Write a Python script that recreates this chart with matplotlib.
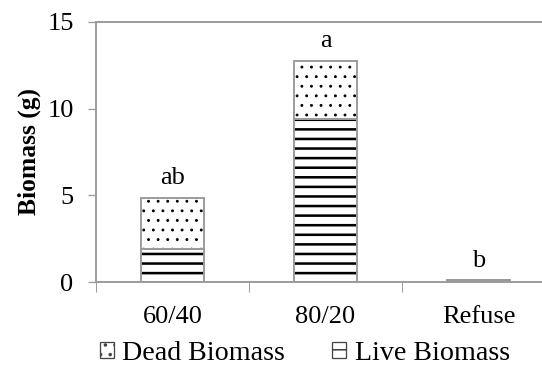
import numpy as np
import matplotlib
matplotlib.use("Agg")
import matplotlib.pyplot as plt
from matplotlib.patches import Patch

categories = ["60/40", "80/20", "Refuse"]
live = [1.9, 9.4, 0.1]
dead = [2.95, 3.35, 0.0]
letters = ["ab", "a", "b"]

plt.rcParams['font.family'] = ['Liberation Serif']

gray = "#9a9a9a"

fig = plt.figure(figsize=(542 / 115, 366 / 115), dpi=115)
ax = fig.add_axes([0.177, 0.2295, 0.847, 0.7105])

x = np.arange(len(categories))
w = 0.41

# live biomass (horizontal stripes) and dead biomass (dots) stacked
with plt.rc_context({'hatch.linewidth': 1.6}):
    ax.bar(x, live, w, color="white", edgecolor="black", hatch="--", linewidth=0)
    live_h = Patch(facecolor="white", edgecolor="#444444", hatch="--", linewidth=0.8)
with plt.rc_context({'hatch.linewidth': 0.6}):
    ax.bar(x, dead, w, bottom=live, color="white", edgecolor="black", hatch="..", linewidth=0)
    dead_h = Patch(facecolor="white", edgecolor="#444444", hatch="..", linewidth=0.8)
ax.bar(x, live, w, fill=False, edgecolor=gray, linewidth=1.2)
ax.bar(x, dead, w, bottom=live, fill=False, edgecolor=gray, linewidth=1.2)

totals = np.array(live) + np.array(dead)
for xi, t, s in zip(x, totals, letters):
    ax.text(xi, t + 0.5, s, ha="center", va="bottom", fontsize=16.5)

ax.set_xlim(-0.5, 2.5)
ax.set_ylim(0, 15)
ax.set_yticks([0, 5, 10, 15])
ax.set_xticks(x)
ax.set_xticklabels(categories, fontsize=16.5)
ax.set_xticks([-0.5, 0.5, 1.5, 2.5], minor=True)
ax.tick_params(axis="x", which="major", length=0, pad=15)
ax.tick_params(axis="x", which="minor", length=6, color=gray, direction="out")
ax.tick_params(axis="y", labelsize=16.5, length=5, color=gray, direction="out", pad=9)
ax.set_ylabel("Biomass (g)", fontsize=16, fontweight="bold", labelpad=4)

for side in ["left", "bottom", "top"]:
    ax.spines[side].set_color(gray)
    ax.spines[side].set_linewidth(1.2)
ax.spines["right"].set_visible(False)

ax.legend([dead_h, live_h], ["Dead Biomass", "Live Biomass"], ncol=2, frameon=False,
          loc="center", bbox_to_anchor=(0.455, -0.275), fontsize=17.5,
          handlelength=0.5, handleheight=0.5, handletextpad=0.3, columnspacing=1.7)

fig.savefig("out.png", dpi=115)
